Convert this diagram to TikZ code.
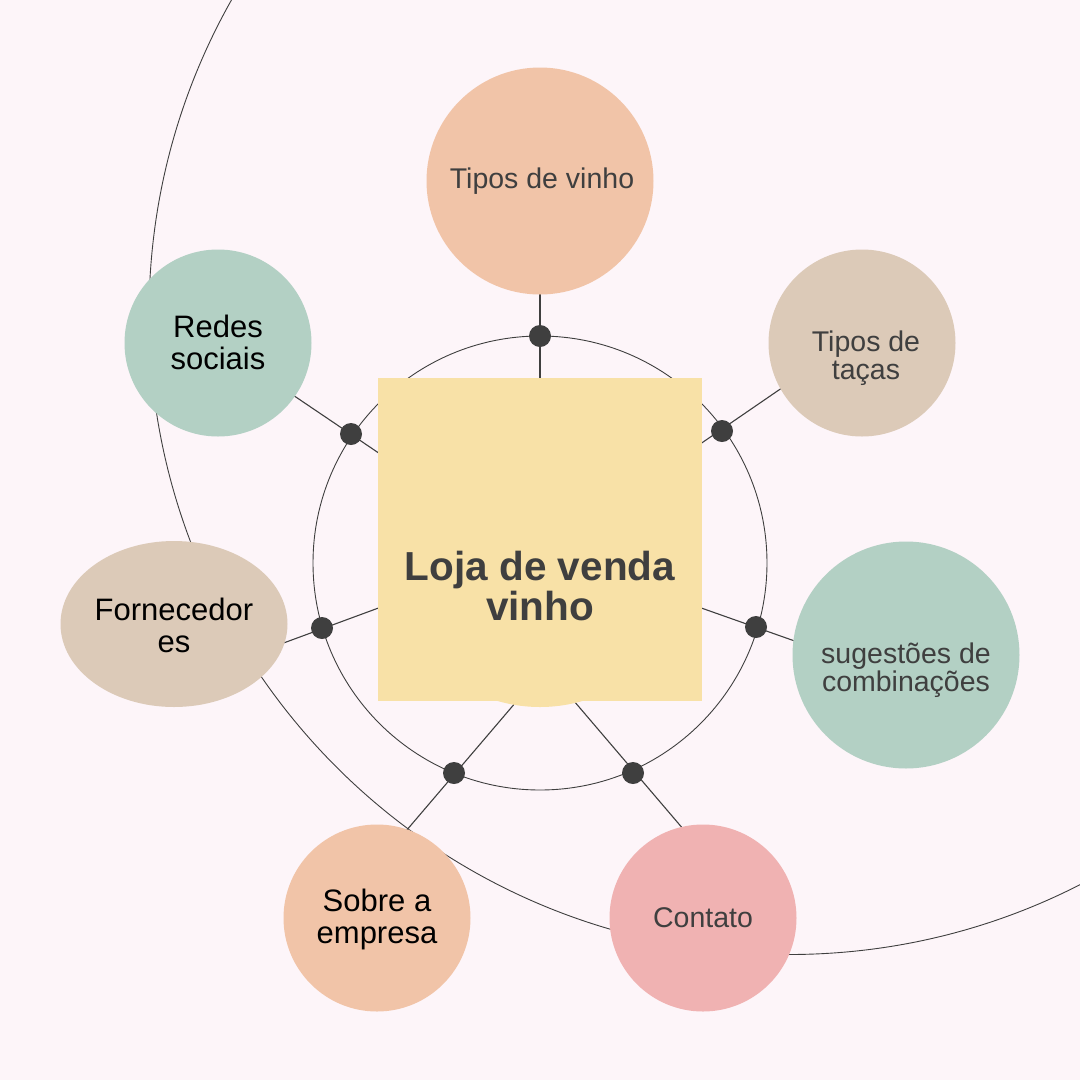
\documentclass[tikz,border=0pt]{standalone}
\usepackage{fontspec}
\setmainfont{Liberation Sans}
\usetikzlibrary{shapes.geometric}
\definecolor{bgc}{HTML}{FDF5F9}
\definecolor{peach}{HTML}{F1C4A8}
\definecolor{tan}{HTML}{DCCAB8}
\definecolor{sage}{HTML}{B3D0C4}
\definecolor{rose}{HTML}{F0B2B2}
\definecolor{butter}{HTML}{F8E1A7}
\definecolor{ink}{HTML}{3F3F3F}
\tikzset{
  bubble/.style={circle, draw=none, inner sep=0pt},
  wire/.style={draw=ink, line width=1.1pt},
  ring/.style={draw=ink, line width=0.9pt},
  dotnode/.style={circle, fill=ink, inner sep=0pt, minimum size=22pt},
  lighttxt/.style={text=ink, align=center, font=\fontsize{28.5}{28.5}\selectfont},
  darktxt/.style={text=black, align=center, font=\fontsize{31}{32}\selectfont},
}
\begin{document}
\begin{tikzpicture}[x=1pt,y=-1pt]
\useasboundingbox (0,0) rectangle (1080,1080);
\fill[bgc] (0,0) rectangle (1080,1080);
\clip (0,0) rectangle (1080,1080);
% rings
\draw[ring] (789,314.5) circle[radius=640];
\draw[ring] (540,563) circle[radius=227];
% line end points
\coordinate (i1) at (540,390); \coordinate (o1) at (540,280);
\coordinate (i2) at (690,451); \coordinate (o2) at (792,381);
\coordinate (i3) at (690,604); \coordinate (o3) at (806,645);
\coordinate (i4) at (568,694); \coordinate (o4) at (690,837);
\coordinate (i5) at (522,695); \coordinate (o5) at (400,838);
\coordinate (i6) at (392,603); \coordinate (o6) at (270,648);
\coordinate (i7) at (392,462); \coordinate (o7) at (284,389);
\foreach \k in {1,...,7} {\draw[wire] (i\k) -- (o\k);}
% bubbles
\node[bubble, fill=peach, minimum size=227pt] (vinho) at (540,181) {};
\node[bubble, fill=tan, minimum size=187pt] (tacas) at (862,343) {};
\node[bubble, fill=sage, minimum size=187pt] (redes) at (218,343) {};
\node[ellipse, fill=tan, inner sep=0pt, minimum width=227pt, minimum height=166pt] (forn) at (174,624) {};
\node[bubble, fill=sage, minimum size=227pt] (sug) at (906,655) {};
\node[bubble, fill=peach, minimum size=187pt] (sobre) at (377,918) {};
\node[bubble, fill=rose, minimum size=187pt] (contato) at (703,918) {};
% center
\node[bubble, fill=butter, minimum size=302pt] (bump) at (540,556) {};
\node[fill=butter, minimum width=324pt, minimum height=323pt, inner sep=0pt] (hub) at (540,539.5) {};
% dots
\node[dotnode] (d1) at (540,336) {};
\node[dotnode] (d2) at (722,431) {};
\node[dotnode] (d3) at (756,627) {};
\node[dotnode] (d4) at (633,773) {};
\node[dotnode] (d5) at (454,773) {};
\node[dotnode] (d6) at (322,628) {};
\node[dotnode] (d7) at (351,434) {};
% texts
\node[lighttxt] (tv) at (542,181) {Tipos de vinho};
\node[lighttxt] (tt) at (866,358) {Tipos de\\taças};
\node[darktxt] (tr) at (218,342) {Redes\\sociais};
\node[darktxt] (tf) at (174,625) {Fornecedor\\es};
\node[lighttxt] (ts) at (906,670) {sugestões de\\combinações};
\node[darktxt] (tsb) at (377,919) {Sobre a\\empresa};
\node[lighttxt] (tc) at (703,918) {Contato};
\node[text=ink, align=center, font=\fontsize{40.5}{40}\bfseries\selectfont] (th) at (540,586) {Loja de venda\\vinho};
\end{tikzpicture}
\end{document}
